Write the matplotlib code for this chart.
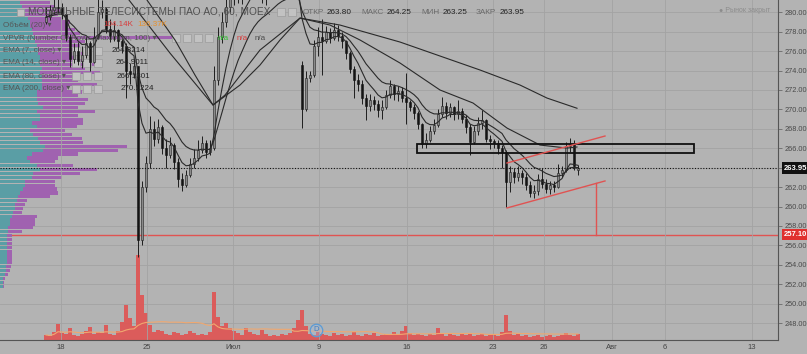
import matplotlib
matplotlib.use("Agg")
import matplotlib.pyplot as plt
from matplotlib.patches import Rectangle
import numpy as np
import pandas as pd

plt.rcParams["font.family"] = ["Liberation Sans", "DejaVu Sans"]

# ---- data: MTSS, 60 min bars (close / high / low, open = previous close) ----
close = [279.5, 280.2, 280.6, 280.4, 279.8, 277.5, 275.2, 276.0, 275.0, 275.6,
         276.8, 274.9, 277.5, 280.0, 280.3, 278.3, 277.6, 278.2, 277.0, 276.5,
         274.0, 273.6, 274.5, 256.5, 262.0, 264.5, 268.0, 267.0, 268.2, 266.0,
         265.3, 266.3, 264.6, 262.8, 262.2, 263.2, 264.4, 265.0, 265.8, 266.5,
         265.6, 266.0, 273.0, 277.5, 279.0, 280.6, 281.5, 282.3, 282.8, 282.2,
         283.0, 283.5, 283.0, 282.5, 282.0, 281.8, 282.4, 282.9, 283.3, 283.0,
         282.6, 282.9, 282.5, 282.0, 270.0, 273.2, 273.5, 276.5, 277.5, 277.0,
         278.0, 277.4, 278.2, 277.6, 277.0, 275.8, 274.2, 273.0, 272.6, 271.2,
         270.4, 271.0, 270.6, 269.9, 270.3, 271.5, 272.4, 271.6, 271.9, 271.2,
         270.8, 270.3, 269.6, 268.5, 266.4, 266.9, 267.8, 268.4, 269.5, 270.4,
         269.6, 270.2, 269.5, 269.8, 269.0, 268.2, 266.6, 267.8, 268.6, 268.9,
         267.0, 266.7, 266.5, 266.0, 265.6, 262.5, 263.6, 263.0, 263.5, 263.0,
         262.2, 261.4, 261.6, 262.8, 262.3, 261.8, 262.2, 262.0, 263.5, 263.8,
         266.2, 266.4, 264.2, 263.95]
high = [280.5, 280.8, 281.5, 281.6, 281.0, 279.9, 277.8, 276.8, 276.9, 276.5,
        277.6, 277.0, 278.5, 281.4, 281.3, 280.5, 279.3, 279.0, 278.3, 277.6,
        276.8, 274.8, 275.2, 274.5, 262.6, 265.2, 269.3, 268.8, 269.0, 268.4,
        267.0, 267.2, 266.5, 265.0, 263.5, 263.8, 265.0, 265.9, 266.8, 267.3,
        266.9, 266.8, 274.5, 278.5, 280.0, 281.6, 282.5, 283.0, 283.5, 283.2,
        283.8, 284.2, 284.0, 283.5, 283.0, 282.8, 283.2, 283.6, 284.0, 283.8,
        283.5, 283.7, 283.4, 283.0, 275.0, 274.0, 274.0, 277.2, 278.5, 279.3,
        278.6, 278.4, 278.9, 278.7, 278.0, 277.2, 276.0, 274.5, 273.6, 273.0,
        271.6, 271.6, 271.4, 271.0, 271.0, 272.0, 273.0, 272.6, 272.4, 272.3,
        273.8, 271.0, 270.6, 269.8, 268.6, 267.6, 268.3, 269.0, 270.0, 271.3,
        270.8, 270.7, 270.4, 271.0, 270.1, 269.4, 268.5, 268.3, 269.2, 269.9,
        269.0, 267.4, 267.0, 266.8, 266.3, 265.8, 264.2, 264.0, 264.2, 263.8,
        263.5, 262.6, 262.2, 263.3, 264.0, 262.8, 262.6, 262.6, 264.4, 264.2,
        266.6, 267.1, 266.9, 264.25]
low = [278.8, 279.2, 279.8, 279.9, 279.3, 277.0, 274.4, 274.8, 274.6, 274.3,
       275.3, 274.0, 274.8, 277.3, 279.4, 277.9, 276.9, 277.0, 276.3, 275.8,
       271.2, 272.6, 273.2, 254.8, 256.0, 261.5, 264.0, 266.2, 266.5, 265.4,
       264.0, 265.0, 263.9, 262.0, 261.6, 262.0, 263.0, 264.0, 264.7, 265.5,
       265.0, 265.3, 265.8, 272.5, 276.8, 278.5, 280.0, 280.8, 281.0, 280.9,
       281.8, 282.3, 282.2, 281.8, 281.0, 280.8, 281.4, 281.8, 282.4, 282.0,
       281.9, 282.0, 281.6, 281.5, 268.1, 269.8, 272.8, 273.3, 275.5, 273.5,
       276.8, 276.8, 277.2, 277.0, 276.3, 275.2, 273.8, 271.2, 271.9, 270.6,
       268.9, 269.8, 269.9, 269.2, 269.0, 270.0, 271.2, 271.0, 270.9, 270.8,
       268.5, 269.8, 269.0, 268.0, 266.0, 266.0, 266.6, 267.5, 268.2, 269.2,
       269.0, 269.2, 268.9, 269.0, 268.6, 267.6, 265.3, 266.4, 267.4, 268.0,
       266.6, 265.9, 266.0, 265.4, 264.0, 260.0, 261.5, 262.4, 262.6, 262.3,
       261.7, 261.0, 260.9, 261.2, 261.9, 261.4, 261.3, 261.5, 261.9, 263.0,
       263.6, 265.6, 263.8, 263.25]
gap_open = {0: 279.0, 64: 274.6, 133: 263.80}

# volume, thousands of lots
volume_k = [85, 68, 136, 272, 119, 102, 204, 85, 68, 102,
            153, 221, 102, 136, 119, 255, 102, 85, 153, 306,
            595, 374, 238, 1445, 765, 459, 255, 136, 170, 153,
            102, 85, 136, 119, 85, 102, 153, 119, 85, 102,
            85, 136, 816, 391, 238, 289, 204, 153, 119, 85,
            204, 136, 102, 85, 170, 102, 68, 85, 68, 102,
            85, 119, 204, 340, 510, 238, 102, 85, 136, 102,
            85, 68, 119, 85, 102, 68, 85, 136, 85, 68,
            102, 85, 119, 68, 85, 102, 85, 136, 102, 153,
            238, 119, 85, 102, 85, 68, 102, 85, 204, 102,
            68, 119, 85, 68, 102, 85, 119, 68, 85, 102,
            68, 85, 102, 68, 136, 425, 153, 85, 102, 68,
            85, 51, 68, 85, 51, 68, 85, 51, 68, 85,
            119, 85, 68, 104]

# slow EMAs (bar index, price)
ema80_x = [19.75, 31, 41.75, 44.75, 53.5, 63.5, 71, 78.5, 88.5, 98.5, 106.75, 115.25, 123.5, 130.25, 132.75]
ema80_y = [281.8, 275.8, 270.45, 271.48, 276.12, 279.41, 278.69, 277.15, 274.78, 272.0, 270.66, 268.08, 266.33, 266.02, 266.13]
ema200_x = [24, 32.25, 37.25, 41.75, 48.5, 53.5, 58.5, 63.5, 73.5, 88.5, 98.5, 108.5, 118.5, 125.25, 132.75]
ema200_y = [282.0, 277.15, 273.54, 270.45, 272.51, 274.57, 277.15, 279.41, 278.69, 276.94, 275.5, 274.06, 272.51, 271.17, 270.12]

# visible range volume profile, rows from 281.0 down in 0.4 steps
profile_top = 281.0
profile_step = 0.4
profile_up = [20, 22, 25, 25, 28, 30, 30, 32, 33, 35, 35, 37, 38, 38, 40, 40, 40, 42, 40, 42,
              42, 42, 42, 37, 37, 37, 38, 43, 37, 40, 40, 32, 37, 30, 33, 38, 40, 45, 43, 32,
              27, 30, 37, 40, 33, 32, 25, 25, 23, 20, 18, 17, 15, 15, 13, 12, 10, 10, 8, 8,
              7, 7, 7, 7, 7, 7, 7, 7, 6, 6, 5, 3, 3, 3]
profile_down = [30, 33, 35, 33, 34, 40, 38, 43, 47, 137, 50, 43, 40, 47, 35, 42, 55, 43, 60, 38,
                36, 55, 25, 45, 41, 51, 47, 35, 58, 38, 43, 51, 40, 35, 39, 44, 43, 82, 75, 46,
                31, 25, 36, 57, 47, 30, 30, 30, 34, 38, 32, 10, 10, 8, 9, 25, 25, 25, 25, 14,
                5, 5, 5, 5, 5, 5, 5, 5, 5, 4, 3, 2, 1, 1]

date_ticks = [3.75, 25.25, 46.75, 68.25, 90.25, 111.75, 124.5, 141.5, 154.75, 176.5]
date_labels = ["18", "25", "Июл", "9", "16", "23", "26", "Авг", "6", "13"]
price_ticks = list(range(248, 281, 2))

last_close = 263.95
target_level = 257.10
zone_bars = (92.75, 162.0)
zone_prices = (265.51, 266.44)
channel_bars = [115.25, 139.75]
channel_top = [264.48, 267.26]
channel_bottom = [259.85, 262.63]
target_bar = 137.5
target_from = 262.37
dividend_bar = 67.5

# ---- style ----
BG = "#b3b3b3"
GRID = "#a3a3a3"
RED = "#e05352"
TEAL = "#5a9ea5"
PURPLE = "#a062b0"

o = np.array(close[:1] + close[:-1], dtype=float)
for k, v in gap_open.items():
    o[k] = v
c = np.array(close)
h = np.array(high)
l = np.array(low)
x = np.arange(len(c))

fig = plt.figure(figsize=(8.07, 3.54), dpi=100, facecolor=BG)
rect = [0, 14 / 354, 778 / 807, 340 / 354]
ax = fig.add_axes(rect)
axp = fig.add_axes(rect, sharey=ax)
axv = fig.add_axes(rect, sharex=ax)
axp.set_zorder(1)
axv.set_zorder(2)
ax.set_zorder(3)
axp.set_facecolor(BG)
axv.patch.set_visible(False)
ax.patch.set_visible(False)

ax.set_xlim(-11.5, 183)
ax.set_ylim(246.25, 281.27)

# profile
levels = profile_top - profile_step * np.arange(len(profile_up))
up = np.array(profile_up)
down = np.array(profile_down)
axp.barh(levels, up, height=0.33, color=TEAL, zorder=1)
axp.barh(levels, down, left=up, height=0.33, color=PURPLE, zorder=1)
axp.set_xlim(0, (up + down).max() / 0.221)
axp.axhline(target_level, color=RED, lw=1.0, zorder=0.9)
axp.set_xticks([])
axp.yaxis.grid(True, color=GRID, lw=0.6)
axp.set_axisbelow(True)
axp.tick_params(axis="y", left=False, labelleft=False, right=False)
for s in axp.spines.values():
    s.set_visible(False)

# volume
vol = pd.Series(volume_k)
axv.bar(x, volume_k, width=0.85, color=RED, alpha=0.9, lw=0)
axv.plot(x, vol.rolling(20, min_periods=1).mean(), color="#f0a870", lw=0.8)
axv.set_ylim(0, 5780)
axv.set_yticks([])
axv.xaxis.grid(True, color=GRID, lw=0.6)
axv.tick_params(axis="x", bottom=False, labelbottom=False)
for s in axv.spines.values():
    s.set_visible(False)

# candles
ax.vlines(x, l, h, color="#1e1e1e", lw=0.7, zorder=3)
rise = c >= o
body = np.maximum(np.abs(c - o), 0.06)
ax.bar(x[rise], body[rise], bottom=o[rise], width=0.62, color="#8a8a8a",
       edgecolor="#1e1e1e", lw=0.4, zorder=4)
ax.bar(x[~rise], body[~rise], bottom=c[~rise], width=0.62, color="#141414",
       edgecolor="#141414", lw=0.4, zorder=4)

# EMAs
cs = pd.Series(close)
ax.plot(x, cs.ewm(span=7, adjust=False).mean(), color="#2a2a2a", lw=0.8, zorder=5)
ax.plot(x, cs.ewm(span=14, adjust=False).mean(), color="#2a2a2a", lw=0.8, zorder=5)
ax.plot(ema80_x, ema80_y, color="#2a2a2a", lw=0.8, zorder=5)
ax.plot(ema200_x, ema200_y, color="#2a2a2a", lw=0.8, zorder=5)

# drawings
ax.axhline(last_close, color="#111111", lw=0.8, ls=(0, (1, 1.5)), zorder=6)
ax.add_patch(Rectangle((zone_bars[0], zone_prices[0]), zone_bars[1] - zone_bars[0],
                       zone_prices[1] - zone_prices[0], fill=False, ec="#111111", lw=1.3, zorder=6))
ax.plot(channel_bars, channel_top, color=RED, lw=1.0, zorder=6)
ax.plot(channel_bars, channel_bottom, color=RED, lw=1.0, zorder=6)
ax.plot([target_bar, target_bar], [target_from, target_level], color=RED, lw=1.0, zorder=6)

xt = ax.get_xaxis_transform()
ax.plot([dividend_bar], [0.03], transform=xt, marker="o", ms=9, mfc=(0.62, 0.75, 0.9, 0.35),
        mec="#5b9bd5", mew=0.9, zorder=7, clip_on=False)
ax.text(dividend_bar, 0.03, "D", transform=xt, ha="center", va="center", color="#3f7fc4",
        fontsize=5.5, zorder=8)

# axes
ax.yaxis.tick_right()
ax.set_yticks(price_ticks, labels=[f"{p:.2f}" for p in price_ticks])
ax.set_xticks(date_ticks, labels=date_labels)
ax.tick_params(axis="y", length=3, width=0.6, color="#6a6a6a", labelsize=5.3,
               labelcolor="#4a4a4a", pad=2)
ax.tick_params(axis="x", length=0, labelsize=5.5, labelcolor="#444444", pad=3)
for side in ("top", "left"):
    ax.spines[side].set_visible(False)
for side in ("right", "bottom"):
    ax.spines[side].set_color("#555555")
    ax.spines[side].set_linewidth(0.8)

yt = ax.get_yaxis_transform()
ax.text(1.008, last_close, "263.95", transform=yt, ha="left", va="center", color="white",
        fontsize=5.5, fontweight="bold", zorder=10, clip_on=False,
        bbox=dict(boxstyle="square,pad=0.3", fc="#111111", ec="none"))
ax.text(1.008, target_level, "257.10", transform=yt, ha="left", va="center", color="white",
        fontsize=5.5, fontweight="bold", zorder=10, clip_on=False,
        bbox=dict(boxstyle="square,pad=0.3", fc="#e0302e", ec="none"))


# legend texts
def fx(px):
    return px / 807


def fy(py):
    return 1 - py / 354


def icon(px, py, size=8):
    fig.patches.append(Rectangle((fx(px - size / 2), fy(py + size / 2)), size / 807, size / 354,
                                 transform=fig.transFigure, fc="#c2c2c2", ec="#9c9c9c", lw=0.5))


icon(20, 12, 7)
fig.text(fx(28), fy(12), "МОБИЛЬНЫЕ ТЕЛЕСИСТЕМЫ ПАО АО, 60, MOEX", fontsize=7.3,
         color="#505050", va="center")
for px in (281, 292):
    icon(px, 12)
ohlc = [("ОТКР", 303, "263.80", 327), ("МАКС", 361, "264.25", 387),
        ("МИН", 421, "263.25", 443), ("ЗАКР", 476, "263.95", 500)]
for name, nx, val, vx in ohlc:
    fig.text(fx(nx), fy(12), name, fontsize=5.9, color="#6a6a6a", va="center")
    fig.text(fx(vx), fy(12), val, fontsize=5.9, color="#222222", va="center")

fig.text(fx(3), fy(25), "Объём (20) ▾", fontsize=5.8, color="#555555", va="center")
fig.text(fx(103), fy(25), "104.14K", fontsize=5.8, color="#d83c3c", va="center")
fig.text(fx(137), fy(25), "136.37K", fontsize=5.8, color="#e8902a", va="center")

fig.text(fx(3), fy(38), "VPVR (Number Of Rows, Maximum, 100) ▾", fontsize=5.8,
         color="#555555", va="center")
for px in (176, 187, 198, 209):
    icon(px, 38)
fig.text(fx(218), fy(38), "n/a", fontsize=5.8, color="#2fc22f", va="center")
fig.text(fx(237), fy(38), "n/a", fontsize=5.8, color="#d83c3c", va="center")
fig.text(fx(255), fy(38), "n/a", fontsize=5.8, color="#4a4a4a", va="center")

ema_rows = [("EMA (7, close) ▾", "264.3214", 51, 112),
            ("EMA (14, close) ▾", "264.9011", 63, 116),
            ("EMA (80, close) ▾", "266.1301", 76, 117),
            ("EMA (200, close) ▾", "270.1224", 89, 121)]
for name, val, py, vx in ema_rows:
    fig.text(fx(3), fy(py), name, fontsize=5.8, color="#555555", va="center")
    for px in (76, 87, 98):
        icon(px, py)
    fig.text(fx(vx), fy(py), val, fontsize=5.8, color="#222222", va="center")

fig.text(fx(719), fy(11), "● Рынок закрыт", fontsize=5, color="#8c8c8c", va="center")

fig.savefig("out.png", dpi=100, facecolor=BG)
